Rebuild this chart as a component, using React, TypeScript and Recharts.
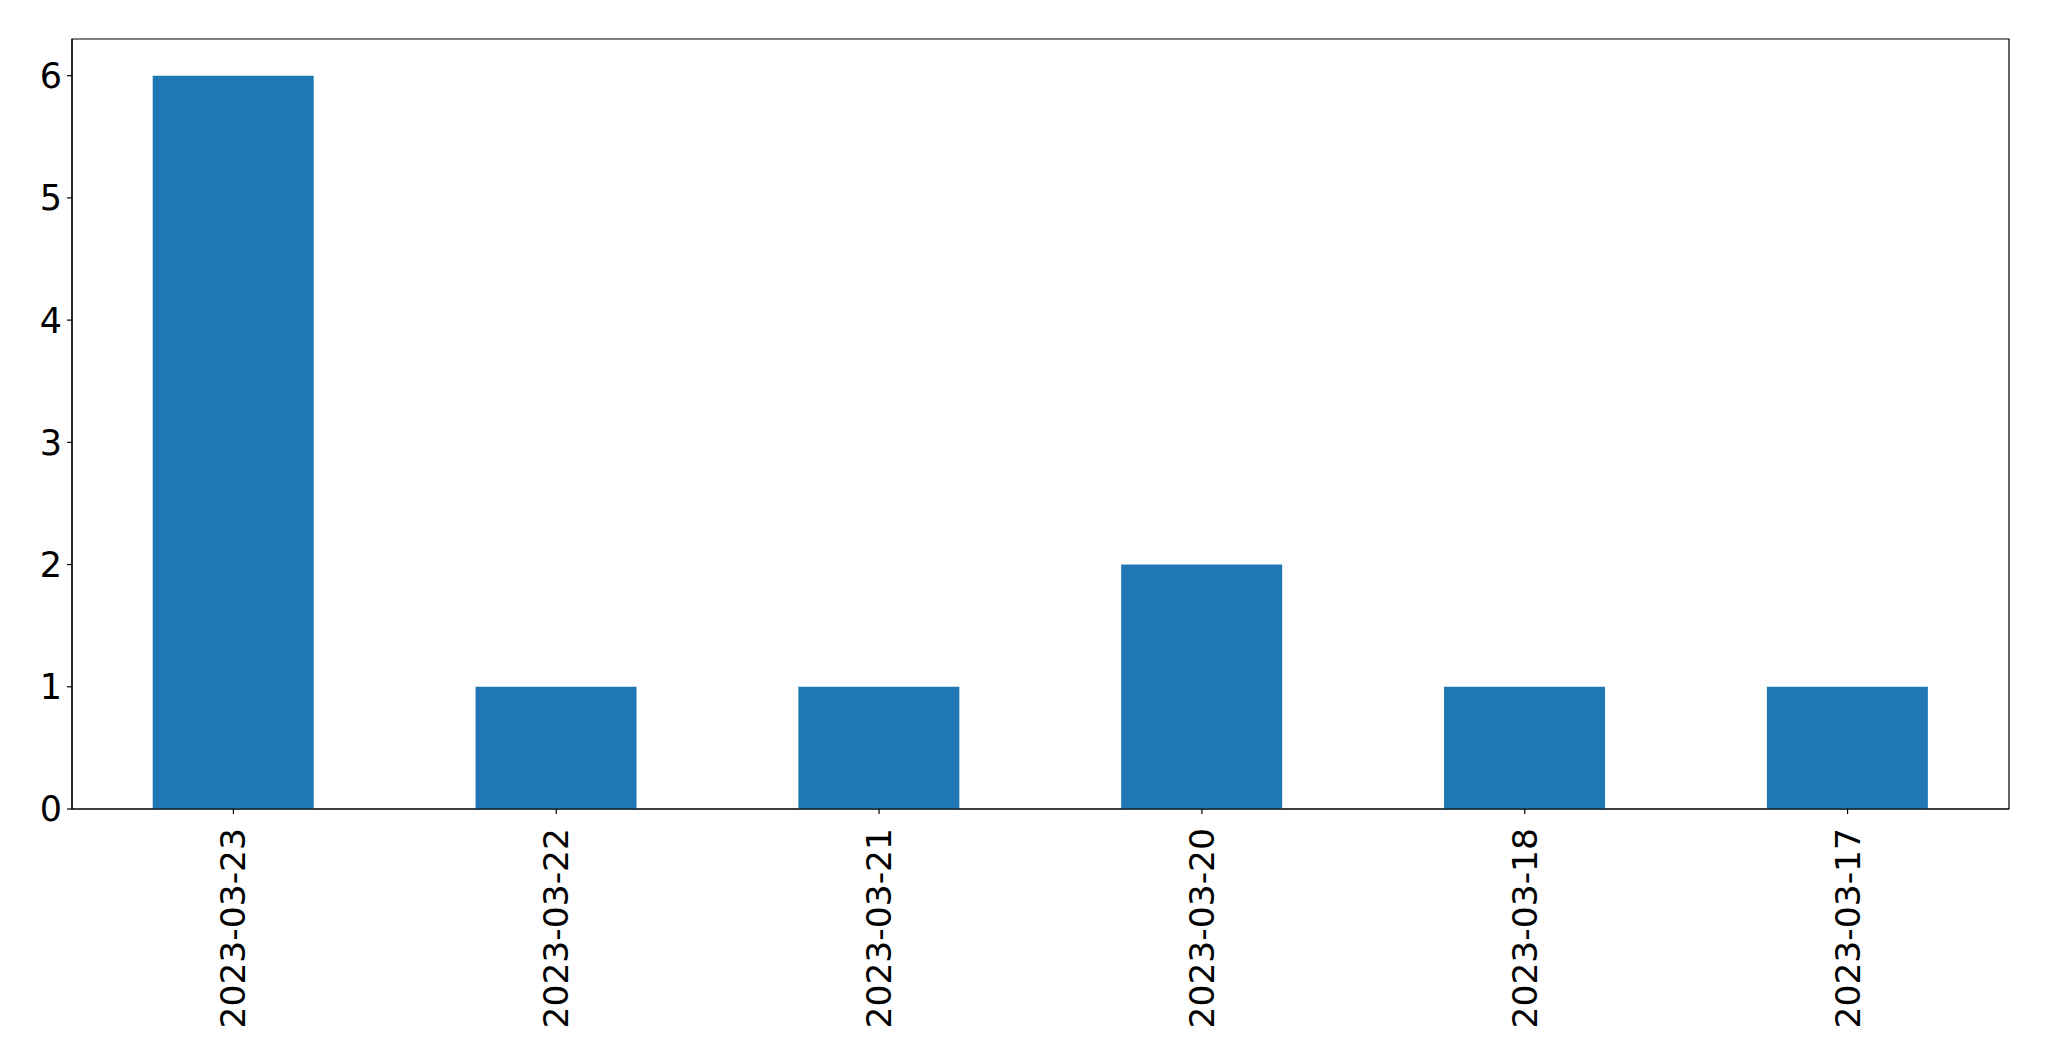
import React from "react";
import { BarChart, Bar, XAxis, YAxis, ReferenceArea } from "recharts";

const categories = ["2023-03-23", "2023-03-22", "2023-03-21", "2023-03-20", "2023-03-18", "2023-03-17"];
const counts = [6, 1, 1, 2, 1, 1];
const yTicks = [0, 1, 2, 3, 4, 5, 6];
const yMax = 6.3;

const data = categories.map((c, i) => ({ date: c, count: counts[i] }));

const FONT = "'DejaVu Sans', sans-serif";

const XTick = (props: any) => {
  const { x, y, payload } = props;
  return (
    <text
      x={x}
      y={y}
      transform={`rotate(-90, ${x}, ${y})`}
      textAnchor="end"
      dominantBaseline="central"
      fontSize={34.5}
      fontFamily={FONT}
      fill="#000"
    >
      {payload.value}
    </text>
  );
};

export default function App() {
  return (
    <div style={{ position: "absolute", left: 0, top: 0, width: 2049, height: 1061, background: "#fff" }}>
      <BarChart
        width={2049}
        height={1061}
        data={data}
        margin={{ top: 39, right: 40, bottom: 2, left: 0 }}
        barCategoryGap="25%"
      >
        <XAxis
          dataKey="date"
          height={250}
          interval={0}
          tick={<XTick />}
          tickSize={5}
          tickMargin={14}
          axisLine={{ stroke: "#000", strokeWidth: 1.2 }}
          tickLine={{ stroke: "#000", strokeWidth: 1.2 }}
        />
        <YAxis
          width={72}
          domain={[0, yMax]}
          ticks={yTicks}
          tickSize={5}
          tickMargin={5}
          tick={{ fontSize: 35, fontFamily: FONT, fill: "#000" }}
          axisLine={{ stroke: "#000", strokeWidth: 1.2 }}
          tickLine={{ stroke: "#000", strokeWidth: 1.2 }}
        />
        <Bar dataKey="count" fill="#1f77b4" isAnimationActive={false} />
        <ReferenceArea
          x1={categories[0]}
          x2={categories[categories.length - 1]}
          y1={0}
          y2={yMax}
          fill="none"
          fillOpacity={0}
          stroke="#000"
          strokeWidth={1.2}
          ifOverflow="visible"
        />
      </BarChart>
    </div>
  );
}
